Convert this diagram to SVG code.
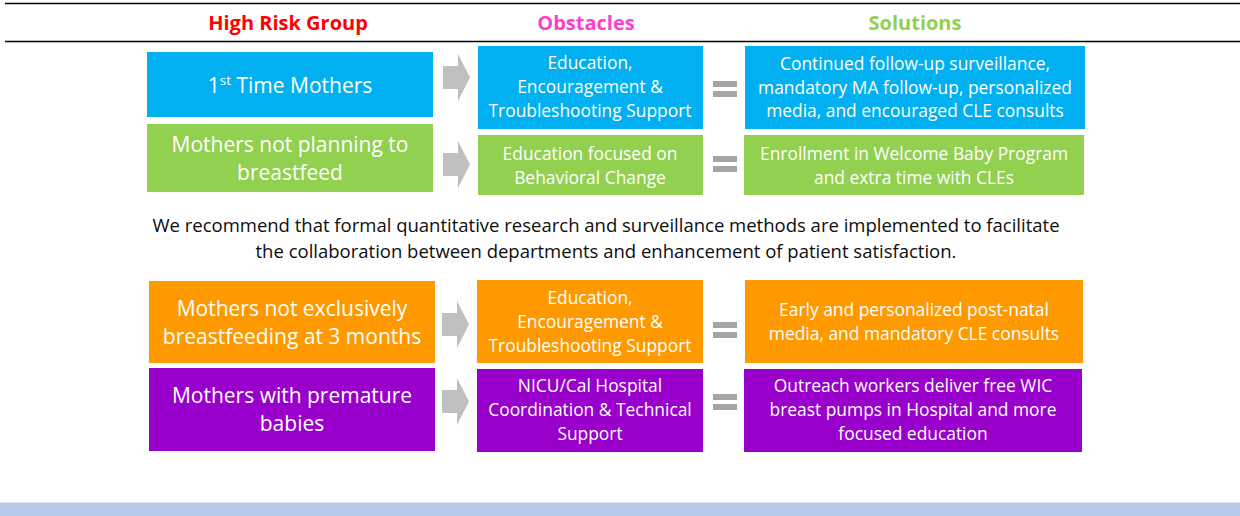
<svg xmlns="http://www.w3.org/2000/svg" width="1240" height="516" viewBox="0 0 1240 516">
<style>
text{font-family:"Open Sans",Lato,"Liberation Sans",sans-serif;text-anchor:middle;fill:#fff}
.h{font-weight:bold;font-size:20px}
.l{font-size:21px}
.s{font-size:17.4px}
.p{font-size:18.5px;fill:#0d0d0d}
.blue{fill:#00B0F0}.green{fill:#92D050}.orange{fill:#FF9900}.purple{fill:#9900CC}
.arr{fill:#BFBFBF}.eq{fill:#A6A6A6}
</style>
<defs>
<path id="arrow" d="M0,13 H15 V1 L27,24.5 L15,48 V36 H0 Z"/>
<g id="equals"><rect x="0" y="0" width="24" height="6"/><rect x="0" y="10" width="24" height="6"/></g>
</defs>
<rect width="1240" height="516" fill="#fff"/>
<line x1="5" y1="3.5" x2="1240" y2="3.5" stroke="#000" stroke-width="1.5"/>
<line x1="5" y1="41.5" x2="1240" y2="41.5" stroke="#000" stroke-width="1.5"/>
<g id="headers">
<text class="h" x="288" y="30" style="fill:#FF0000">High Risk Group</text>
<text class="h" x="586" y="30" style="fill:#FF3FCB">Obstacles</text>
<text class="h" x="915" y="30" style="fill:#92D050">Solutions</text>
</g>
<g id="connectors">
<use href="#arrow" class="arr" x="443" y="53"/>
<use href="#arrow" class="arr" x="443" y="140"/>
<use href="#arrow" class="arr" x="442" y="300"/>
<use href="#arrow" class="arr" x="442" y="377"/>
<use href="#equals" class="eq" x="713" y="81"/>
<use href="#equals" class="eq" x="713" y="156"/>
<use href="#equals" class="eq" x="713" y="322"/>
<use href="#equals" class="eq" x="713" y="394"/>
</g>
<g id="group1"><rect class="blue" x="147" y="52" width="286" height="65"/>
<text class="l" x="290" y="93">1<tspan dy="-8" font-size="13.5">st</tspan><tspan dy="8"> Time Mothers</tspan></text></g>
<g id="obstacle1"><rect class="blue" x="478" y="46" width="225" height="83"/>
<text class="s" x="590" y="69">Education,</text><text class="s" x="590" y="93">Encouragement &amp;</text><text class="s" x="590" y="117">Troubleshooting Support</text></g>
<g id="solution1"><rect class="blue" x="745" y="46" width="340" height="83"/>
<text class="s" x="915" y="70">Continued follow-up surveillance,</text><text class="s" x="915" y="94">mandatory MA follow-up, personalized</text><text class="s" x="915" y="117">media, and encouraged CLE consults</text></g>
<g id="group2"><rect class="green" x="147" y="124" width="286" height="68"/>
<text class="l" x="290" y="152">Mothers not planning to</text><text class="l" x="290" y="180">breastfeed</text></g>
<g id="obstacle2"><rect class="green" x="478" y="135" width="225" height="60"/>
<text class="s" x="590" y="160">Education focused on</text><text class="s" x="590" y="184">Behavioral Change</text></g>
<g id="solution2"><rect class="green" x="744" y="135" width="340" height="60"/>
<text class="s" x="914" y="160">Enrollment in Welcome Baby Program</text><text class="s" x="914" y="184">and extra time with CLEs</text></g>
<g id="recommendation">
<text class="p" x="606" y="232">We recommend that formal quantitative research and surveillance methods are implemented to facilitate</text>
<text class="p" x="606" y="258">the collaboration between departments and enhancement of patient satisfaction.</text>
</g>
<g id="group3"><rect class="orange" x="149" y="281" width="286" height="82"/>
<text class="l" x="292" y="316">Mothers not exclusively</text><text class="l" x="292" y="344">breastfeeding at 3 months</text></g>
<g id="obstacle3"><rect class="orange" x="477" y="280" width="226" height="83"/>
<text class="s" x="590" y="304">Education,</text><text class="s" x="590" y="328">Encouragement &amp;</text><text class="s" x="590" y="352">Troubleshooting Support</text></g>
<g id="solution3"><rect class="orange" x="745" y="280" width="338" height="83"/>
<text class="s" x="914" y="316">Early and personalized post-natal</text><text class="s" x="914" y="340">media, and mandatory CLE consults</text></g>
<g id="group4"><rect class="purple" x="149" y="368" width="286" height="83"/>
<text class="l" x="292" y="403">Mothers with premature</text><text class="l" x="292" y="431">babies</text></g>
<g id="obstacle4"><rect class="purple" x="477" y="369" width="226" height="83"/>
<text class="s" x="590" y="392">NICU/Cal Hospital</text><text class="s" x="590" y="416">Coordination &amp; Technical</text><text class="s" x="590" y="440">Support</text></g>
<g id="solution4"><rect class="purple" x="744" y="369" width="338" height="83"/>
<text class="s" x="913" y="392">Outreach workers deliver free WIC</text><text class="s" x="913" y="416">breast pumps in Hospital and more</text><text class="s" x="913" y="440">focused education</text></g>
<rect x="0" y="502" width="1240" height="14" fill="#B7C9E8"/>
<line x1="0" y1="502.5" x2="1240" y2="502.5" stroke="#DCE4F2" stroke-width="1"/>
</svg>
